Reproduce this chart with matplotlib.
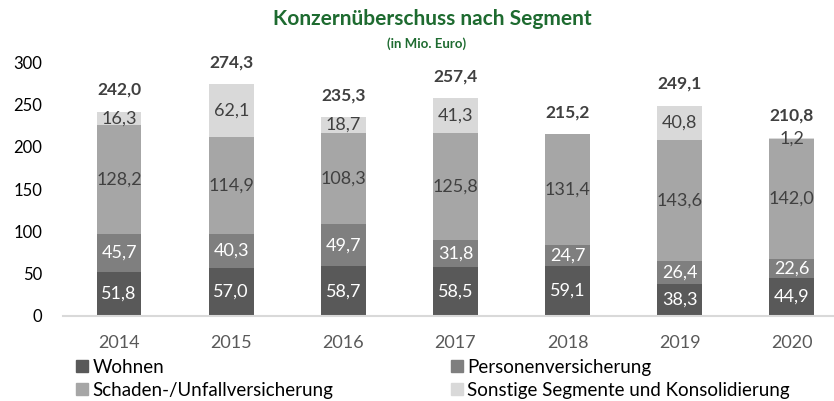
#!/usr/bin/env python3

import numpy as np
import matplotlib
matplotlib.use('Agg')
import matplotlib.pyplot as plt
from matplotlib.patches import Patch

years = ['2014', '2015', '2016', '2017', '2018', '2019', '2020']
wohnen = [51.8, 57.0, 58.7, 58.5, 59.1, 38.3, 44.9]
personen = [45.7, 40.3, 49.7, 31.8, 24.7, 26.4, 22.6]
schaden = [128.2, 114.9, 108.3, 125.8, 131.4, 143.6, 142.0]
sonstige = [16.3, 62.1, 18.7, 41.3, 0.0, 40.8, 1.2]
totals = [242.0, 274.3, 235.3, 257.4, 215.2, 249.1, 210.8]

names = ['Wohnen', 'Personenversicherung',
         'Schaden-/Unfallversicherung',
         'Sonstige Segmente und Konsolidierung']
colors = ['#595959', '#7f7f7f', '#a6a6a6', '#d9d9d9']
label_colors = ['white', 'white', '#404040', '#404040']


def fmt(v):
    return f'{v:.1f}'.replace('.', ',')


def main():
    plt.rcParams['font.family'] = ['Lato', 'DejaVu Sans']
    fig = plt.figure(figsize=(8.34, 4.01), dpi=100)
    ax = fig.add_axes([63 / 834, 1 - 316 / 401, 1 - 63 / 834,
                       (316 - 62.5) / 401])

    x = np.arange(len(years))
    bottom = np.zeros(len(years))
    for vals, name, col, lcol in zip([wohnen, personen, schaden, sonstige],
                                     names, colors, label_colors):
        vals = np.array(vals)
        ax.bar(x, vals, 0.4, bottom=bottom, color=col, label=name)
        for xi, b, v in zip(x, bottom, vals):
            if v > 0:
                ax.text(xi, b + v / 2, fmt(v), ha='center', va='center',
                        fontsize=13, color=lcol)
        bottom = bottom + vals

    for xi, t in zip(x, totals):
        ax.annotate(fmt(t), (xi, t), xytext=(0, 10),
                    textcoords='offset points', ha='center', va='bottom',
                    fontsize=12.5, fontweight='bold', color='#404040')

    ax.set_xlim(-0.5, 6.376)
    ax.set_ylim(0, 300)
    ax.set_yticks(range(0, 301, 50))
    ax.set_xticks(x)
    ax.set_xticklabels(years)
    ax.tick_params(axis='y', length=0, pad=15, labelsize=12, labelcolor='black')
    ax.tick_params(axis='x', length=0, pad=14, labelsize=13,
                   labelcolor='#595959')
    for s in ['top', 'right', 'left']:
        ax.spines[s].set_visible(False)
    ax.spines['bottom'].set_color('#d9d9d9')
    ax.spines['bottom'].set_linewidth(1.5)

    fig.text(0.518, 1 - 19 / 401, 'Konzernüberschuss nach Segment',
             ha='center', va='center', fontsize=15, fontweight='bold',
             color='#1e6b30')
    fig.text(0.512, 1 - 44 / 401, '(in Mio. Euro)', ha='center',
             va='center', fontsize=9.5, fontweight='bold', color='#1e6b30')

    # legend fills column by column, so reorder to get rows as in the original
    order = [0, 2, 1, 3]
    handles = [Patch(color=colors[i]) for i in order]
    labels = [names[i] for i in order]
    fig.legend(handles, labels, ncol=2, loc='upper left',
               bbox_to_anchor=(76 / 834, 1 - 359 / 401), frameon=False,
               fontsize=13.5, handlelength=0.62, handleheight=0.62,
               handletextpad=0.26, columnspacing=6.27, labelspacing=0.3,
               borderpad=0, borderaxespad=0)

    fig.savefig('out.png', dpi=100)


if __name__ == '__main__':
    main()
